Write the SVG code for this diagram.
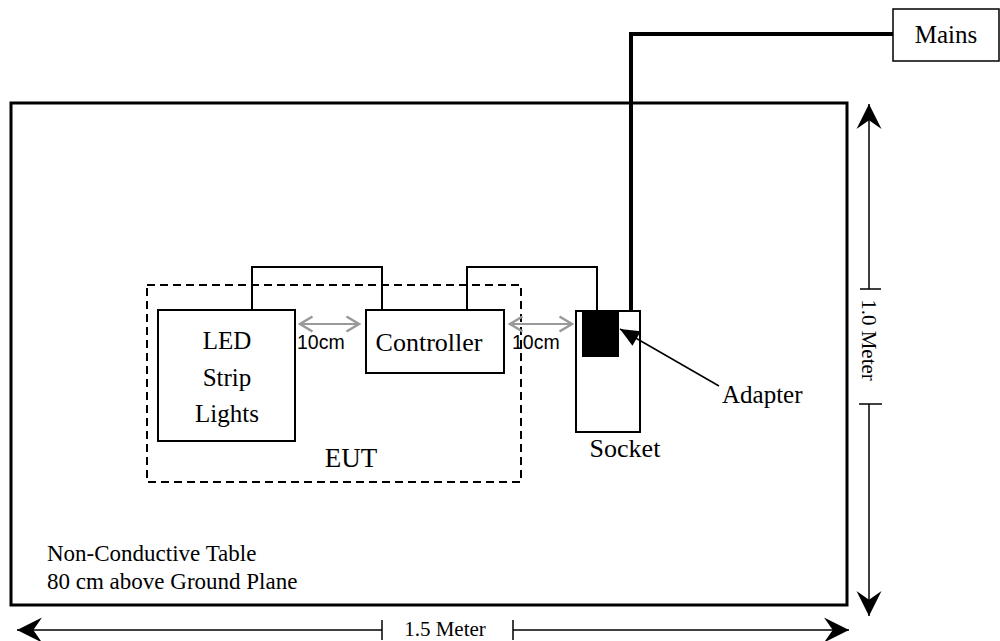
<svg xmlns="http://www.w3.org/2000/svg" width="1000" height="641" viewBox="0 0 1000 641">
<style>
.serif{font-family:"Liberation Serif","Times New Roman",serif;fill:#000}
.sans{font-family:"Liberation Sans",Arial,sans-serif;fill:#000}
.box{fill:#fff;stroke:#000;stroke-width:2}
.wire{fill:none;stroke:#000;stroke-width:2}
.dim{fill:none;stroke:#000;stroke-width:1.5}
.gap{fill:none;stroke:#999;stroke-width:2}
</style>
<defs>
<marker id="dimHead" markerUnits="userSpaceOnUse" markerWidth="30" markerHeight="30" viewBox="-22 -12 24 24" refX="0" refY="0" orient="auto-start-reverse">
<path d="M0,0 L-20,-10 L-13,0 L-20,10 Z" fill="#000"/>
</marker>
<marker id="gapHead" markerUnits="userSpaceOnUse" markerWidth="20" markerHeight="20" viewBox="-12 -8 14 16" refX="0" refY="0" orient="auto-start-reverse">
<path d="M-10,-6 L0,0 L-10,6" fill="none" stroke="#999" stroke-width="2"/>
</marker>
<marker id="solidHead" markerUnits="userSpaceOnUse" markerWidth="24" markerHeight="24" viewBox="-18 -10 20 20" refX="0" refY="0" orient="auto">
<path d="M0,0 L-16,-7 L-16,7 Z" fill="#000"/>
</marker>
</defs>

<g id="table">
<rect x="11" y="103" width="836" height="502" fill="#fff" stroke="#000" stroke-width="3"/>
<text class="serif" x="47" y="561" font-size="23">Non-Conductive Table</text>
<text class="serif" x="47" y="589" font-size="23">80 cm above Ground Plane</text>
</g>

<g id="eut">
<rect x="147" y="285" width="374" height="197" fill="none" stroke="#000" stroke-width="2" stroke-dasharray="8,5"/>
<text class="serif" x="351" y="467" font-size="27" text-anchor="middle">EUT</text>
</g>

<g id="led">
<rect class="box" x="158" y="310" width="137" height="131"/>
<text class="serif" x="227" y="349" font-size="25" text-anchor="middle">LED</text>
<text class="serif" x="227" y="386" font-size="25" text-anchor="middle">Strip</text>
<text class="serif" x="227" y="422" font-size="25" text-anchor="middle">Lights</text>
</g>

<g id="controller">
<rect class="box" x="366" y="310" width="138" height="63"/>
<text class="serif" x="429" y="351" font-size="26" text-anchor="middle">Controller</text>
</g>

<g id="socket">
<rect class="box" x="576" y="311" width="64" height="121"/>
<rect x="582" y="312" width="37" height="45" fill="#000"/>
<text class="serif" x="625" y="457" font-size="26" text-anchor="middle">Socket</text>
</g>

<g id="mains">
<rect x="893" y="9" width="106" height="52" fill="#fff" stroke="#000" stroke-width="1.5"/>
<text class="serif" x="946" y="43" font-size="25" text-anchor="middle">Mains</text>
</g>

<g id="connectors">
<path class="wire" d="M252,310 V267 H382 V310"/>
<path class="wire" d="M467,310 V267 H597 V311"/>
<path fill="none" stroke="#000" stroke-width="4" d="M631,311 V34 H893"/>
<line class="gap" x1="300" y1="324" x2="359" y2="324" marker-start="url(#gapHead)" marker-end="url(#gapHead)"/>
<line class="gap" x1="510" y1="324" x2="572" y2="324" marker-start="url(#gapHead)" marker-end="url(#gapHead)"/>
<line stroke="#000" stroke-width="1.5" x1="719" y1="386" x2="620" y2="329" marker-end="url(#solidHead)"/>
</g>

<g id="gap-labels">
<text class="sans" x="297" y="349" font-size="19.5">10cm</text>
<text class="sans" x="512" y="349" font-size="19.5">10cm</text>
</g>

<g id="adapter-label">
<text class="serif" x="722" y="403" font-size="25">Adapter</text>
</g>

<g id="dim-width">
<line class="dim" x1="17" y1="630" x2="382" y2="630" marker-start="url(#dimHead)"/>
<line class="dim" x1="513" y1="630" x2="849" y2="630" marker-end="url(#dimHead)"/>
<line class="dim" x1="382" y1="620" x2="382" y2="640"/>
<line class="dim" x1="513" y1="620" x2="513" y2="640"/>
<text class="serif" x="445" y="636" font-size="21" text-anchor="middle">1.5 Meter</text>
</g>

<g id="dim-height">
<line class="dim" x1="869" y1="104" x2="869" y2="289" marker-start="url(#dimHead)"/>
<line class="dim" x1="869" y1="404" x2="869" y2="616" marker-end="url(#dimHead)"/>
<line class="dim" x1="860" y1="289" x2="881" y2="289"/>
<line class="dim" x1="859" y1="404" x2="882" y2="404"/>
<text class="serif" transform="translate(862,340) rotate(90)" x="0" y="0" font-size="21" text-anchor="middle">1.0 Meter</text>
</g>
</svg>
